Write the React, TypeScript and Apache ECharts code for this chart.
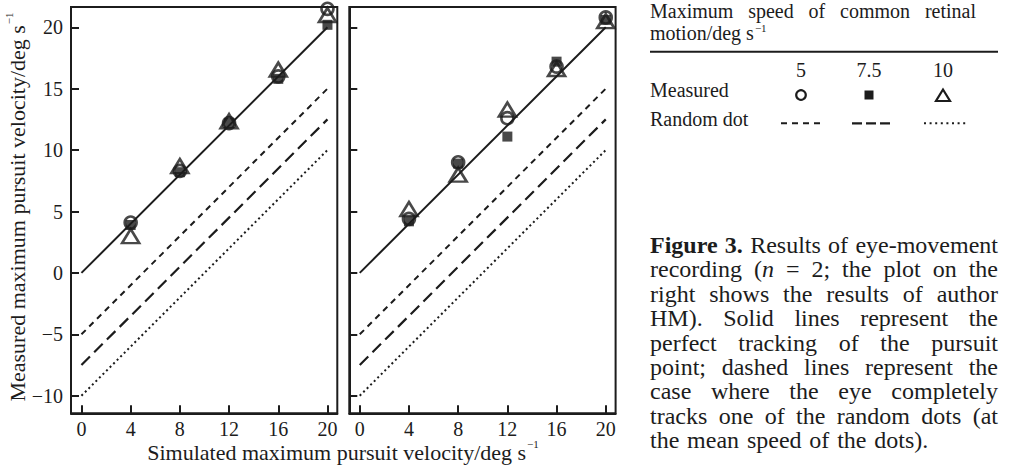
import React, { useEffect, useRef } from 'react';
import * as echarts from 'echarts';

// ---------- data ----------
const xTicks = [0, 4, 8, 12, 16, 20];
const yTicks = [-10, -5, 0, 5, 10, 15, 20];
const simulated = [4, 8, 12, 16, 20];

const leftCircle = [4.1, 8.3, 12.2, 16.0, 21.5];
const leftSquare = [3.9, 8.2, 12.2, 15.8, 20.2];
const leftTriangle = [3.0, 8.7, 12.35, 16.55, 21.0];

const rightCircle = [4.4, 9.0, 12.6, 16.8, 20.8];
const rightSquare = [4.2, 8.9, 11.1, 17.2, 20.6];
const rightTriangle = [5.2, 8.0, 13.3, 16.6, 20.5];

const perfectLine = [[0, 0], [20, 20]];
const randomDot5 = [[0, -5], [20, 15]];
const randomDot75 = [[0, -7.5], [20, 12.5]];
const randomDot10 = [[0, -10], [20, 10]];

const legendSpeeds = ['5', '7.5', '10'];
const legendHeader = ['Maximum speed of common retinal', 'motion/deg s'];
const axisNameX = 'Simulated maximum pursuit velocity/deg s';
const axisNameY = 'Measured maximum pursuit velocity/deg s';
const supText = '\u22121';

const captionLines = [
  '**Figure** **3.** Results of eye-movement',
  'recording (_n_ = 2; the plot on the',
  'right shows the results of author',
  'HM). Solid lines represent the',
  'perfect tracking of the pursuit',
  'point; dashed lines represent the',
  'case where the eye completely',
  'tracks one of the random dots (at',
  'the mean speed of the dots).',
];

// ---------- helpers ----------
const FONT = 'Liberation Serif';
const INK = '#1c1c1c';
let measureCtx: CanvasRenderingContext2D | null = null;
function tw(text: string, size: number, bold = false, italic = false) {
  if (!measureCtx) measureCtx = document.createElement('canvas').getContext('2d');
  measureCtx!.font = `${italic ? 'italic' : 'normal'} ${bold ? 'bold' : 'normal'} ${size}px "${FONT}"`;
  return measureCtx!.measureText(text).width;
}

function textEl(x: number, y: number, text: string, size: number, bold = false, italic = false, align = 'left') {
  return {
    type: 'text',
    x,
    y,
    silent: true,
    style: {
      text,
      fontFamily: FONT,
      fontSize: size,
      fontWeight: bold ? 'bold' : 'normal',
      fontStyle: italic ? 'italic' : 'normal',
      fill: INK,
      align,
      verticalAlign: 'middle',
    },
  };
}

type Part = { t: string; b: boolean; i: boolean };
function parseWord(w: string): Part[] {
  const out: Part[] = [];
  w.split(/(\*\*.+?\*\*|_.+?_)/).forEach((s) => {
    if (!s) return;
    if (s.startsWith('**')) out.push({ t: s.slice(2, -2), b: true, i: false });
    else if (s.startsWith('_')) out.push({ t: s.slice(1, -1), b: false, i: true });
    else out.push({ t: s, b: false, i: false });
  });
  return out;
}

function lineEls(line: string, x0: number, x1: number, y: number, size: number, justify: boolean) {
  const words = line.split(' ').map(parseWord);
  const widths = words.map((ps) => ps.reduce((s, p) => s + tw(p.t, size, p.b, p.i), 0));
  const total = widths.reduce((a, b) => a + b, 0);
  const gap = justify && words.length > 1 ? (x1 - x0 - total) / (words.length - 1) : tw(' ', size) * 1.3;
  const els: any[] = [];
  let x = x0;
  words.forEach((ps, k) => {
    let px = x;
    ps.forEach((p) => {
      els.push(textEl(px, y, p.t, size, p.b, p.i));
      px += tw(p.t, size, p.b, p.i);
    });
    x += widths[k] + gap;
  });
  return els;
}

function labelWithSup(cx: number, cy: number, main: string, size: number, rotation: number) {
  const wMain = tw(main, size);
  const supSize = Math.round(size * 0.52);
  const wSup = tw(supText, supSize);
  const total = wMain + 1 + wSup;
  return {
    type: 'group',
    x: cx,
    y: cy,
    rotation,
    silent: true,
    children: [
      textEl(-total / 2, 0, main, size),
      textEl(-total / 2 + wMain + 1, -size * 0.38, supText, supSize),
    ],
  };
}

const fmt = (v: number) => (v < 0 ? '\u2212' + Math.abs(v) : String(v));

export default function App() {
  const ref = useRef<HTMLDivElement>(null);
  useEffect(() => {
    if (!ref.current) return;
    const chart = echarts.init(ref.current, undefined, { renderer: 'svg' });

    const gridTop = 7;
    const gridH = 406.3;
    const gridW = 266.3;
    const grids = [
      { left: 71, top: gridTop, width: gridW, height: gridH, show: true, borderColor: INK, borderWidth: 2 },
      { left: 349.3, top: gridTop, width: gridW, height: gridH, show: true, borderColor: INK, borderWidth: 2 },
    ];
    const xAxes = [0, 1].map((g) => ({
      type: 'value',
      gridIndex: g,
      min: -0.85,
      max: 20.8,
      axisLine: { show: true, onZero: false, lineStyle: { color: INK, width: 2 } },
      axisTick: { show: true, inside: true, length: 8, customValues: xTicks, lineStyle: { color: INK, width: 2 } },
      axisLabel: { show: true, customValues: xTicks, fontSize: 20, color: INK, fontFamily: FONT, margin: 6 },
      splitLine: { show: false },
    }));
    const yAxes = [0, 1].map((g) => ({
      type: 'value',
      gridIndex: g,
      min: -11.43,
      max: 21.65,
      axisLine: { show: true, onZero: false, lineStyle: { color: INK, width: 2 } },
      axisTick: { show: true, inside: true, length: 8, customValues: yTicks, lineStyle: { color: INK, width: 2 } },
      axisLabel: { show: g === 0, customValues: yTicks, fontSize: 20, color: INK, fontFamily: FONT, margin: 8, formatter: fmt },
      splitLine: { show: false },
    }));

    const lineDefs = [
      { data: perfectLine, dash: 'solid' as any, width: 2 },
      { data: randomDot5, dash: [6, 5], width: 2 },
      { data: randomDot75, dash: [12, 6], width: 2.2 },
      { data: randomDot10, dash: [2, 3], width: 2 },
    ];
    const series: any[] = [];
    [0, 1].forEach((g) => {
      lineDefs.forEach((d) => {
        series.push({
          type: 'line',
          xAxisIndex: g,
          yAxisIndex: g,
          data: d.data,
          symbol: 'none',
          silent: true,
          z: 2,
          lineStyle: { color: INK, width: d.width, type: d.dash, cap: 'butt' },
        });
      });
      const sq = g === 0 ? leftSquare : rightSquare;
      const ci = g === 0 ? leftCircle : rightCircle;
      const tr = g === 0 ? leftTriangle : rightTriangle;
      series.push({
        type: 'scatter', xAxisIndex: g, yAxisIndex: g, z: 3, silent: true,
        data: simulated.map((x, i) => [x, sq[i]]),
        symbol: 'rect', symbolSize: 10,
        itemStyle: { color: INK },
      });
      series.push({
        type: 'scatter', xAxisIndex: g, yAxisIndex: g, z: 4, silent: true,
        data: simulated.map((x, i) => [x, ci[i]]),
        symbol: 'circle', symbolSize: 12,
        itemStyle: { color: 'rgba(0,0,0,0)', borderColor: INK, borderWidth: 2.6 },
      });
      series.push({
        type: 'scatter', xAxisIndex: g, yAxisIndex: g, z: 5, silent: true,
        data: simulated.map((x, i) => [x, tr[i]]),
        symbol: 'triangle', symbolSize: [17, 14],
        itemStyle: { color: 'rgba(0,0,0,0)', borderColor: INK, borderWidth: 2.6 },
      });
    });

    // graphic: axis names, legend table, caption
    const graphics: any[] = [];
    graphics.push(labelWithSup(343, 452, axisNameX, 22, 0));
    graphics.push(labelWithSup(17, 207, axisNameY, 22, Math.PI / 2));

    const LX = 650;
    const LS = 20;
    graphics.push(...lineEls(legendHeader[0], LX, 976, 11, LS, true));
    graphics.push(textEl(LX, 33, legendHeader[1], LS));
    const wMotion = tw(legendHeader[1], LS);
    graphics.push(textEl(LX + wMotion + 1, 27.5, supText, 11));
    graphics.push({ type: 'line', silent: true, shape: { x1: 650, y1: 51.7, x2: 998, y2: 51.7 }, style: { stroke: INK, lineWidth: 2 } });
    const colX = [801, 869, 943];
    legendSpeeds.forEach((s, i) => graphics.push(textEl(colX[i], 70, s, LS, false, false, 'center')));
    graphics.push(textEl(LX, 90, 'Measured', LS));
    graphics.push(textEl(LX, 118.5, 'Random dot', LS));
    graphics.push({ type: 'circle', silent: true, shape: { cx: colX[0], cy: 95, r: 4.8 }, style: { fill: 'none', stroke: INK, lineWidth: 2.2 } });
    graphics.push({ type: 'rect', silent: true, shape: { x: colX[1] - 4.5, y: 90.5, width: 9, height: 9 }, style: { fill: INK } });
    graphics.push({ type: 'polygon', silent: true, shape: { points: [[colX[2], 89.5], [colX[2] - 7, 101], [colX[2] + 7, 101]] }, style: { fill: 'none', stroke: INK, lineWidth: 2.2 } });
    graphics.push({ type: 'line', silent: true, shape: { x1: 781, y1: 123.3, x2: 820, y2: 123.3 }, style: { stroke: INK, lineWidth: 2, lineDash: [6, 5] } });
    graphics.push({ type: 'line', silent: true, shape: { x1: 852, y1: 123.3, x2: 890, y2: 123.3 }, style: { stroke: INK, lineWidth: 2.2, lineDash: [10, 4] } });
    graphics.push({ type: 'line', silent: true, shape: { x1: 924, y1: 123.3, x2: 967, y2: 123.3 }, style: { stroke: INK, lineWidth: 2, lineDash: [2, 3.6] } });

    const CS = 24;
    captionLines.forEach((ln, i) => {
      graphics.push(...lineEls(ln, 650, 998, 245 + 24.4 * i, CS, i < captionLines.length - 1));
    });

    chart.setOption({
      animation: false,
      backgroundColor: '#ffffff',
      textStyle: { fontFamily: FONT },
      grid: grids,
      xAxis: xAxes,
      yAxis: yAxes,
      series,
      graphic: { elements: graphics },
    });
    return () => chart.dispose();
  }, []);

  return <div ref={ref} style={{ position: 'fixed', left: 0, top: 0, width: 1010, height: 469, background: '#fff' }} />;
}
